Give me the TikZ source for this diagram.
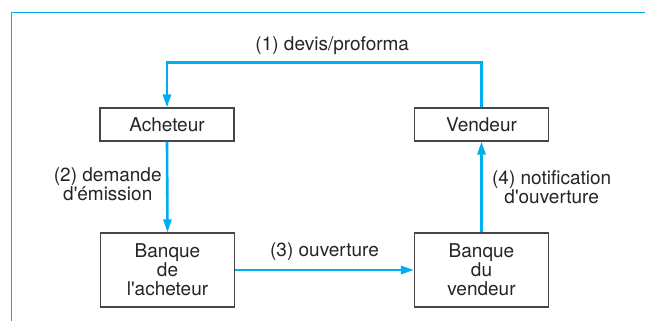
\documentclass[tikz,border=0pt]{standalone}
\usepackage{fontspec}
\setmainfont{TeX Gyre Heros}
\usetikzlibrary{arrows.meta}

\definecolor{flowcyan}{RGB}{0,174,239}
\definecolor{inkgray}{RGB}{38,36,37}
\definecolor{boxgray}{RGB}{70,70,70}

\tikzset{
  every node/.style={text=inkgray, font=\fontsize{19}{19}\selectfont},
  party/.style={draw=boxgray, line width=1.1pt, fill=white, minimum width=134pt, minimum height=33pt, inner sep=0pt},
  bank/.style={party, minimum height=74pt, align=center},
  flow/.style={draw=flowcyan, line width=2.6pt, -{Triangle[length=13pt,width=8pt]}},
  frameline/.style={draw=flowcyan, line width=0.8pt}
}
\newcommand{\apos}{\textquotesingle}

\begin{document}
\begin{tikzpicture}[x=1pt,y=-1pt]
\useasboundingbox (0,0) rectangle (645,321);

%Frame
\draw [frameline] (645,12) -- (11.5,12) -- (11.5,321) ;

% Boxes
\node [party] (acheteur) at (167,124.5) {Acheteur};
\node [party] (vendeur) at (481.5,124.5) {Vendeur};
\node [bank] (banqueA) at (167.5,270) {Banque\\de\\l\apos acheteur};
\node [bank] (banqueV) at (481.5,270) {Banque\\du\\vendeur};

% Flows
\draw [flow] (vendeur.north) -- ++(0,-45) -| (acheteur.north)
  node [pos=0.25, above=3pt, xshift=8pt] {(1) devis/proforma};
\draw [flow] (acheteur.south) -- (banqueA.north)
  node [midway, left=1pt, align=center, yshift=3pt] {(2) demande\\d\apos émission};
\draw [flow] (banqueA.east |- banqueA.center) -- (banqueV.west)
  node [midway, above=5pt] {(3) ouverture};
\draw [flow] (banqueV.north) -- (vendeur.south)
  node [midway, right=6pt, align=center] {(4) notification\\d\apos ouverture};

\end{tikzpicture}
\end{document}
